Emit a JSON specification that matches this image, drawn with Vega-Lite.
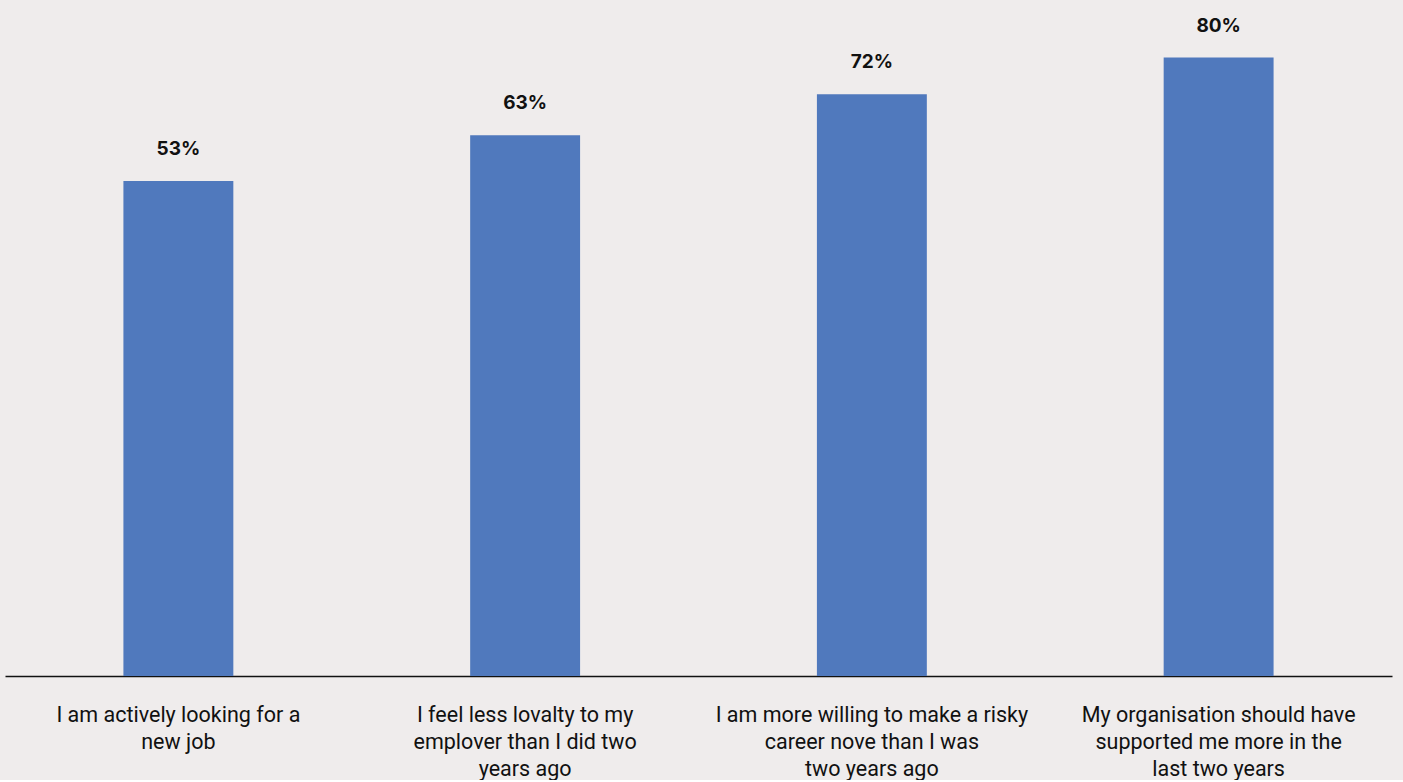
{
  "$schema": "https://vega.github.io/schema/vega-lite/v6.json",
  "width": 1387,
  "height": 676,
  "padding": {"left": 5, "top": 0, "right": 11, "bottom": 0},
  "background": "#efecec",
  "config": {"view": {"stroke": null}},
  "data": {
    "values": [
      {"statement": "I am actively looking for a|new job", "value": 53, "label": "53%"},
      {"statement": "I feel less lovalty to my|emplover than I did two|years ago", "value": 63, "label": "63%"},
      {"statement": "I am more willing to make a risky|career nove than I was|two years ago", "value": 72, "label": "72%"},
      {"statement": "My organisation should have|supported me more in the|last two years", "value": 80, "label": "80%"}
    ]
  },
  "encoding": {
    "x": {
      "field": "statement",
      "type": "nominal",
      "sort": null,
      "scale": {"paddingInner": 0.683, "paddingOuter": 0.3415},
      "axis": {
        "title": null,
        "labelAngle": 0,
        "labelExpr": "split(datum.label, '|')",
        "labelFont": "Roboto",
        "labelFontSize": 21.5,
        "labelColor": "#111111",
        "labelLineHeight": 27,
        "labelPadding": 28,
        "labelBaseline": "top",
        "ticks": false,
        "domainColor": "#111111",
        "domainWidth": 1.5,
        "labelLimit": 0
      }
    }
  },
  "layer": [
    {
      "mark": {"type": "bar", "color": "#5079bd"},
      "encoding": {
        "y": {"field": "value", "type": "quantitative", "scale": {"domain": [-55.3, 92.6], "zero": false, "nice": false}, "axis": null},
        "y2": {"datum": -55.3}
      }
    },
    {
      "mark": {"type": "text", "font": "Inter", "fontWeight": "bold", "fontSize": 19, "color": "#111111", "baseline": "bottom", "dy": -22},
      "encoding": {
        "y": {"field": "value", "type": "quantitative"},
        "text": {"field": "label"}
      }
    }
  ]
}
